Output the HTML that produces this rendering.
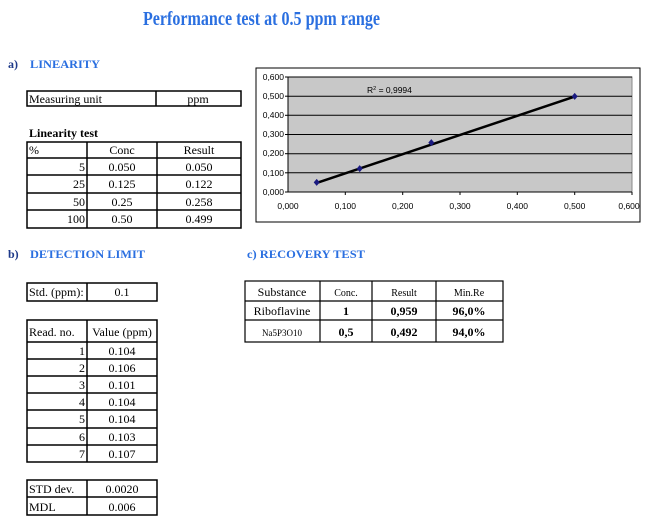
<!DOCTYPE html>
<html><head><meta charset="utf-8"><style>
html,body{margin:0;padding:0;background:#fff;}
svg{display:block;}
.s{font-family:"Liberation Serif",serif;}
.a{font-family:"Liberation Sans",sans-serif;}
</style></head><body>
<svg width="650" height="523" viewBox="0 0 650 523" xmlns="http://www.w3.org/2000/svg">
<g class="s" fill="#2a6fe0" font-weight="bold">
<text x="143" y="25" font-size="20" textLength="237" lengthAdjust="spacingAndGlyphs">Performance test at 0.5 ppm range</text>
<text x="8" y="68" font-size="12" fill="#1e3a8a">a)</text>
<text x="30" y="68" font-size="12" textLength="70" lengthAdjust="spacingAndGlyphs">LINEARITY</text>
<text x="8" y="258" font-size="12" fill="#1e3a8a">b)</text>
<text x="30" y="258" font-size="12" textLength="115" lengthAdjust="spacingAndGlyphs">DETECTION LIMIT</text>
<text x="247" y="258" font-size="12" textLength="118" lengthAdjust="spacingAndGlyphs">c) RECOVERY TEST</text>
</g>
<g class="s" font-size="12" fill="#000">
<rect x="27" y="91" width="214" height="15" fill="none" stroke="#000" stroke-width="1.5"/>
<line x1="156" y1="91" x2="156" y2="106" stroke="#000" stroke-width="1.5"/>
<text x="29" y="103">Measuring unit</text>
<text x="198" y="103" text-anchor="middle">ppm</text>
<text x="29" y="137" font-weight="bold">Linearity test</text>
<rect x="27" y="142" width="214" height="86" fill="none" stroke="#000" stroke-width="1.5"/>
<g stroke="#000" stroke-width="1.5">
<line x1="87" y1="142" x2="87" y2="228"/><line x1="157" y1="142" x2="157" y2="228"/>
<line x1="27" y1="158" x2="241" y2="158"/><line x1="27" y1="175" x2="241" y2="175"/>
<line x1="27" y1="193" x2="241" y2="193"/><line x1="27" y1="210" x2="241" y2="210"/>
</g>
<text x="29" y="154">%</text><text x="122" y="154" text-anchor="middle">Conc</text><text x="199" y="154" text-anchor="middle">Result</text>
<text x="85" y="171" text-anchor="end">5</text><text x="122" y="171" text-anchor="middle">0.050</text><text x="199" y="171" text-anchor="middle">0.050</text>
<text x="85" y="188" text-anchor="end">25</text><text x="122" y="188" text-anchor="middle">0.125</text><text x="199" y="188" text-anchor="middle">0.122</text>
<text x="85" y="206" text-anchor="end">50</text><text x="122" y="206" text-anchor="middle">0.25</text><text x="199" y="206" text-anchor="middle">0.258</text>
<text x="85" y="223" text-anchor="end">100</text><text x="122" y="223" text-anchor="middle">0.50</text><text x="199" y="223" text-anchor="middle">0.499</text>
<rect x="27" y="283" width="130" height="18" fill="none" stroke="#000" stroke-width="1.5"/>
<line x1="87" y1="283" x2="87" y2="301" stroke="#000" stroke-width="1.5"/>
<text x="29" y="296">Std. (ppm):</text><text x="122" y="296" text-anchor="middle">0.1</text>
<rect x="27" y="320" width="130" height="142" fill="none" stroke="#000" stroke-width="1.5"/>
<g stroke="#000" stroke-width="1.5">
<line x1="87" y1="320" x2="87" y2="462"/>
<line x1="27" y1="342" x2="157" y2="342"/><line x1="27" y1="359" x2="157" y2="359"/>
<line x1="27" y1="376" x2="157" y2="376"/><line x1="27" y1="393" x2="157" y2="393"/>
<line x1="27" y1="410" x2="157" y2="410"/><line x1="27" y1="428" x2="157" y2="428"/>
<line x1="27" y1="445" x2="157" y2="445"/>
</g>
<text x="29" y="336">Read. no.</text><text x="122" y="336" text-anchor="middle">Value (ppm)</text>
<text x="85" y="355" text-anchor="end">1</text><text x="122" y="355" text-anchor="middle">0.104</text>
<text x="85" y="372" text-anchor="end">2</text><text x="122" y="372" text-anchor="middle">0.106</text>
<text x="85" y="389" text-anchor="end">3</text><text x="122" y="389" text-anchor="middle">0.101</text>
<text x="85" y="406" text-anchor="end">4</text><text x="122" y="406" text-anchor="middle">0.104</text>
<text x="85" y="423" text-anchor="end">5</text><text x="122" y="423" text-anchor="middle">0.104</text>
<text x="85" y="441" text-anchor="end">6</text><text x="122" y="441" text-anchor="middle">0.103</text>
<text x="85" y="458" text-anchor="end">7</text><text x="122" y="458" text-anchor="middle">0.107</text>
<rect x="27" y="480" width="130" height="35" fill="none" stroke="#000" stroke-width="1.5"/>
<line x1="87" y1="480" x2="87" y2="515" stroke="#000" stroke-width="1.5"/>
<line x1="27" y1="497" x2="157" y2="497" stroke="#000" stroke-width="1.5"/>
<text x="29" y="493">STD dev.</text><text x="122" y="493" text-anchor="middle">0.0020</text>
<text x="29" y="511">MDL</text><text x="122" y="511" text-anchor="middle">0.006</text>
<rect x="245" y="281" width="258" height="61" fill="none" stroke="#000" stroke-width="1.2"/>
<g stroke="#000" stroke-width="1.2">
<line x1="320" y1="281" x2="320" y2="342"/><line x1="372" y1="281" x2="372" y2="342"/><line x1="436" y1="281" x2="436" y2="342"/>
<line x1="245" y1="301" x2="503" y2="301"/><line x1="245" y1="320" x2="503" y2="320"/>
</g>
<text x="282" y="296" text-anchor="middle">Substance</text>
<text x="346" y="296" text-anchor="middle" font-size="10">Conc.</text>
<text x="404" y="296" text-anchor="middle" font-size="10">Result</text>
<text x="469" y="296" text-anchor="middle" font-size="10">Min.Re</text>
<text x="282" y="315" text-anchor="middle">Riboflavine</text>
<text x="346" y="315" text-anchor="middle" font-weight="bold">1</text>
<text x="404" y="315" text-anchor="middle" font-weight="bold">0,959</text>
<text x="469" y="315" text-anchor="middle" font-weight="bold">96,0%</text>
<text x="282" y="336" text-anchor="middle" font-size="9">Na5P3O10</text>
<text x="346" y="336" text-anchor="middle" font-weight="bold">0,5</text>
<text x="404" y="336" text-anchor="middle" font-weight="bold">0,492</text>
<text x="469" y="336" text-anchor="middle" font-weight="bold">94,0%</text>
</g>
<rect x="256" y="68" width="384" height="154" fill="#fff" stroke="#000" stroke-width="1"/>
<rect x="288" y="77" width="344" height="115" fill="#c8c8c8" stroke="#888" stroke-width="1"/>
<g stroke="#000" stroke-width="1">
<line x1="288" y1="96.2" x2="632" y2="96.2"/><line x1="288" y1="115.3" x2="632" y2="115.3"/>
<line x1="288" y1="134.5" x2="632" y2="134.5"/><line x1="288" y1="153.7" x2="632" y2="153.7"/>
<line x1="288" y1="172.8" x2="632" y2="172.8"/><line x1="288" y1="77" x2="632" y2="77"/>
<line x1="288" y1="77" x2="288" y2="192"/><line x1="288" y1="192" x2="632" y2="192"/>
<line x1="285" y1="77" x2="288" y2="77"/><line x1="285" y1="96.2" x2="288" y2="96.2"/><line x1="285" y1="115.3" x2="288" y2="115.3"/><line x1="285" y1="134.5" x2="288" y2="134.5"/><line x1="285" y1="153.7" x2="288" y2="153.7"/><line x1="285" y1="172.8" x2="288" y2="172.8"/><line x1="285" y1="192" x2="288" y2="192"/>
<line x1="345.3" y1="192" x2="345.3" y2="195"/><line x1="402.7" y1="192" x2="402.7" y2="195"/><line x1="460" y1="192" x2="460" y2="195"/><line x1="517.3" y1="192" x2="517.3" y2="195"/><line x1="574.7" y1="192" x2="574.7" y2="195"/><line x1="632" y1="192" x2="632" y2="195"/>
</g>
<line x1="316.7" y1="182.9" x2="574.7" y2="96.6" stroke="#000" stroke-width="2.5"/>
<g fill="#1a1a80">
<path d="M316.7 178.9l3 3.5-3 3.5-3-3.5z"/>
<path d="M359.7 165.1l3 3.5-3 3.5-3-3.5z"/>
<path d="M431.3 139.1l3 3.5-3 3.5-3-3.5z"/>
<path d="M574.7 92.9l3 3.5-3 3.5-3-3.5z"/>
</g>
<g class="a" font-size="8.5" fill="#000">
<g text-anchor="end">
<text x="284" y="80">0,600</text><text x="284" y="99">0,500</text><text x="284" y="118">0,400</text><text x="284" y="137">0,300</text><text x="284" y="156">0,200</text><text x="284" y="176">0,100</text><text x="284" y="195">0,000</text>
</g>
<g text-anchor="middle">
<text x="288" y="209">0,000</text><text x="345.3" y="209">0,100</text><text x="402.7" y="209">0,200</text><text x="460" y="209">0,300</text><text x="517.3" y="209">0,400</text><text x="574.7" y="209">0,500</text><text x="629" y="209">0,600</text>
</g>
<text x="367" y="93">R<tspan font-size="5.5" dy="-3">2</tspan><tspan dy="3"> = 0,9994</tspan></text>
</g>
</svg>
</body></html>
